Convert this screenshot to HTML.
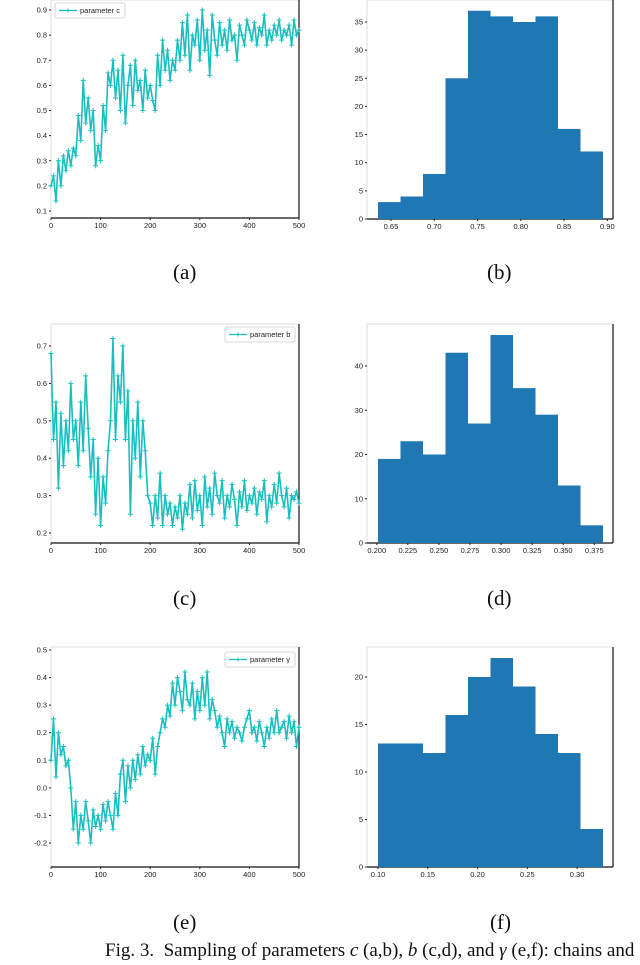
<!DOCTYPE html>
<html><head><meta charset="utf-8"><style>
body{margin:0;background:#fff;width:640px;height:965px;overflow:hidden;position:relative;font-family:"Liberation Sans",sans-serif}
svg{position:absolute;left:0;top:0}
.lab{position:absolute;font-family:"Liberation Serif",serif;font-size:21px;color:#111}
#caption{position:absolute;left:105px;top:940px;font-family:"Liberation Serif",serif;font-size:19px;white-space:nowrap;color:#111}
</style></head><body>
<svg id="chart" width="640" height="965"></svg>
<div class="lab" style="left:173px;top:260px">(a)</div>
<div class="lab" style="left:487px;top:260px">(b)</div>
<div class="lab" style="left:173px;top:586px">(c)</div>
<div class="lab" style="left:487px;top:586px">(d)</div>
<div class="lab" style="left:173px;top:910px">(e)</div>
<div class="lab" style="left:490px;top:910px">(f)</div>
<div id="caption">Fig. 3.&nbsp; Sampling of parameters <i>c</i> (a,b), <i>b</i> (c,d), and <i>γ</i> (e,f): chains and</div>
<script>
const chainC=[0.2,0.24,0.14,0.3,0.2,0.32,0.26,0.34,0.28,0.35,0.32,0.48,0.38,0.62,0.45,0.55,0.42,0.5,0.28,0.36,0.3,0.52,0.42,0.65,0.6,0.7,0.55,0.66,0.5,0.72,0.45,0.6,0.68,0.52,0.7,0.58,0.62,0.5,0.66,0.55,0.6,0.54,0.5,0.72,0.6,0.78,0.66,0.74,0.62,0.7,0.66,0.78,0.7,0.85,0.72,0.88,0.66,0.8,0.76,0.86,0.7,0.9,0.74,0.82,0.64,0.88,0.78,0.72,0.85,0.76,0.82,0.74,0.86,0.78,0.8,0.7,0.84,0.8,0.76,0.86,0.82,0.78,0.85,0.76,0.83,0.8,0.88,0.76,0.82,0.78,0.84,0.8,0.86,0.78,0.82,0.8,0.84,0.76,0.86,0.8,0.82];
const chainB=[0.68,0.45,0.55,0.32,0.52,0.38,0.5,0.42,0.6,0.45,0.5,0.38,0.55,0.42,0.62,0.48,0.35,0.45,0.25,0.4,0.22,0.35,0.28,0.42,0.5,0.72,0.45,0.62,0.55,0.7,0.45,0.58,0.25,0.5,0.4,0.55,0.35,0.5,0.42,0.3,0.28,0.22,0.3,0.24,0.36,0.22,0.3,0.25,0.28,0.22,0.27,0.24,0.3,0.21,0.28,0.25,0.33,0.24,0.34,0.26,0.3,0.22,0.35,0.27,0.32,0.25,0.36,0.3,0.28,0.34,0.24,0.3,0.27,0.33,0.29,0.22,0.31,0.27,0.34,0.26,0.3,0.28,0.32,0.25,0.31,0.29,0.34,0.23,0.3,0.27,0.33,0.28,0.36,0.3,0.27,0.32,0.24,0.3,0.29,0.31,0.28];
const chainG=[0.1,0.25,0.04,0.2,0.12,0.15,0.08,0.1,0.0,-0.15,-0.05,-0.2,-0.1,-0.15,-0.05,-0.12,-0.2,-0.08,-0.14,-0.1,-0.15,-0.06,-0.12,-0.05,-0.1,-0.15,-0.02,-0.1,0.05,0.1,-0.05,0.08,0.0,0.1,0.03,0.12,0.05,0.15,0.08,0.12,0.1,0.18,0.05,0.15,0.2,0.25,0.22,0.3,0.26,0.38,0.3,0.4,0.35,0.28,0.42,0.32,0.3,0.38,0.25,0.35,0.28,0.4,0.3,0.42,0.25,0.32,0.28,0.22,0.26,0.2,0.15,0.25,0.2,0.24,0.18,0.22,0.2,0.17,0.22,0.25,0.28,0.2,0.22,0.17,0.24,0.2,0.15,0.22,0.18,0.25,0.2,0.28,0.2,0.22,0.24,0.18,0.26,0.2,0.24,0.15,0.22];
const histC=[3,4,8,25,37,36,35,36,16,12];
const histB=[19,23,20,43,27,47,35,29,13,4];
const histG=[13,13,12,16,20,22,19,14,12,4];
const chainXTicks=[0,100,200,300,400,500];
const ticksCY=["0.1","0.2","0.3","0.4","0.5","0.6","0.7","0.8","0.9"];
const ticksBY=["0.2","0.3","0.4","0.5","0.6","0.7"];
const ticksGY=["-0.2","-0.1","0.0","0.1","0.2","0.3","0.4","0.5"];
const histCX=["0.65","0.70","0.75","0.80","0.85","0.90"];
const histBX=["0.200","0.225","0.250","0.275","0.300","0.325","0.350","0.375"];
const histGX=["0.10","0.15","0.20","0.25","0.30"];
const histCY=[0,5,10,15,20,25,30,35];
const histBY=[0,10,20,30,40];
const histGY=[0,5,10,15,20];
const histCRange=[0.635,0.895], histBRange=[0.201,0.382], histGRange=[0.10,0.326];

const NS="http://www.w3.org/2000/svg", svg=document.getElementById('chart');
function mk(t,a,p){const e=document.createElementNS(NS,t);for(const k in a)e.setAttribute(k,a[k]);(p||svg).appendChild(e);return e;}
function lin(d0,d1,r0,r1){return v=>r0+(v-d0)*(r1-r0)/(d1-d0);}
function frame(g,x0,y0,x1,y1){
 mk('line',{x1:x0,y1:y0,x2:x1,y2:y0,stroke:'#ddd','stroke-width':1},g);
 mk('line',{x1:x0,y1:y0,x2:x0,y2:y1,stroke:'#ddd','stroke-width':1},g);
 mk('line',{x1:x1,y1:y0,x2:x1,y2:y1,stroke:'#111','stroke-width':1.2},g);
 mk('line',{x1:x0,y1:y1,x2:x1,y2:y1,stroke:'#111','stroke-width':1.2},g);
}
function txt(g,x,y,s,anchor){const t=mk('text',{x:x,y:y,'font-size':7.5,'text-anchor':anchor,fill:'#222','font-family':'Liberation Sans, sans-serif'},g);t.textContent=s;return t;}
function chain(name,vals,yt,v0,p0,v1,p1,top,bot,legend,lx,ly){
 const g=mk('g',{});
 const x=lin(0,500,51,299), y=lin(v0,v1,p0,p1);
 frame(g,51,top,299,bot);
 chainXTicks.forEach(t=>{mk('line',{x1:x(t),y1:bot,x2:x(t),y2:bot+2,stroke:'#222'},g);txt(g,x(t),bot+10,String(t),'middle');});
 yt.forEach(s=>{const v=parseFloat(s);mk('line',{x1:49,y1:y(v),x2:51,y2:y(v),stroke:'#222'},g);txt(g,47,y(v)+2.5,s,'end');});
 const n=vals.length, step=500/(n-1);
 const pts=vals.map((v,i)=>x(i*step).toFixed(1)+','+y(v).toFixed(1)).join(' ');
 const pl=mk('polyline',{points:pts,fill:'none',stroke:'#17bfbf','stroke-width':1.6},g);
 
 vals.forEach((v,i)=>{const cx=x(i*step),cy=y(v);mk('path',{d:`M${cx-2.5},${cy}H${cx+2.5}M${cx},${cy-2.5}V${cy+2.5}`,stroke:'#17bfbf','stroke-width':1},g);});
 const lg=mk('g',{},g);
 mk('rect',{x:lx,y:ly,width:70,height:15,fill:'#fff',stroke:'#ccc','stroke-width':0.8,rx:2},lg);
 mk('line',{x1:lx+4,y1:ly+7.5,x2:lx+22,y2:ly+7.5,stroke:'#17bfbf','stroke-width':1.2},lg);
 mk('path',{d:`M${lx+11},${ly+7.5}H${lx+15}M${lx+13},${ly+5.5}V${ly+9.5}`,stroke:'#17bfbf'},lg);
 txt(lg,lx+25,ly+10,legend,'start');
}
function hist(name,vals,range,xt,yt,ymaxv,ymaxp,top,bot){
 const g=mk('g',{});
 const x=lin(range[0],range[1],378,603), y=lin(0,ymaxv,bot,ymaxp);
 frame(g,367,top,613,bot);
 const w=(range[1]-range[0])/vals.length;
 vals.forEach((v,i)=>{const r=mk('rect',{x:x(range[0]+i*w),y:y(v),width:x(range[0]+(i+1)*w)-x(range[0]+i*w),height:bot-y(v),fill:'#1f77b4'},g);
  });
 xt.forEach(s=>{const v=parseFloat(s);mk('line',{x1:x(v),y1:bot,x2:x(v),y2:bot+2,stroke:'#222'},g);txt(g,x(v),bot+10,s,'middle');});
 yt.forEach(v=>{mk('line',{x1:365,y1:y(v),x2:367,y2:y(v),stroke:'#222'},g);txt(g,363,y(v)+2.5,String(v),'end');});
}
chain('chain-c',chainC,ticksCY,0.1,211,0.9,10,0,218,'parameter c',55,3);
chain('chain-b',chainB,ticksBY,0.2,533,0.7,346,324,543,'parameter b',225,327);
chain('chain-gamma',chainG,ticksGY,-0.2,843,0.5,650,647,867,'parameter γ',225,652);
hist('hist-c',histC,histCRange,histCX,histCY,35,22,0,219);
hist('hist-b',histB,histBRange,histBX,histBY,40,366,324,543);
hist('hist-gamma',histG,histGRange,histGX,histGY,20,677,647,867);
</script>
</body></html>
